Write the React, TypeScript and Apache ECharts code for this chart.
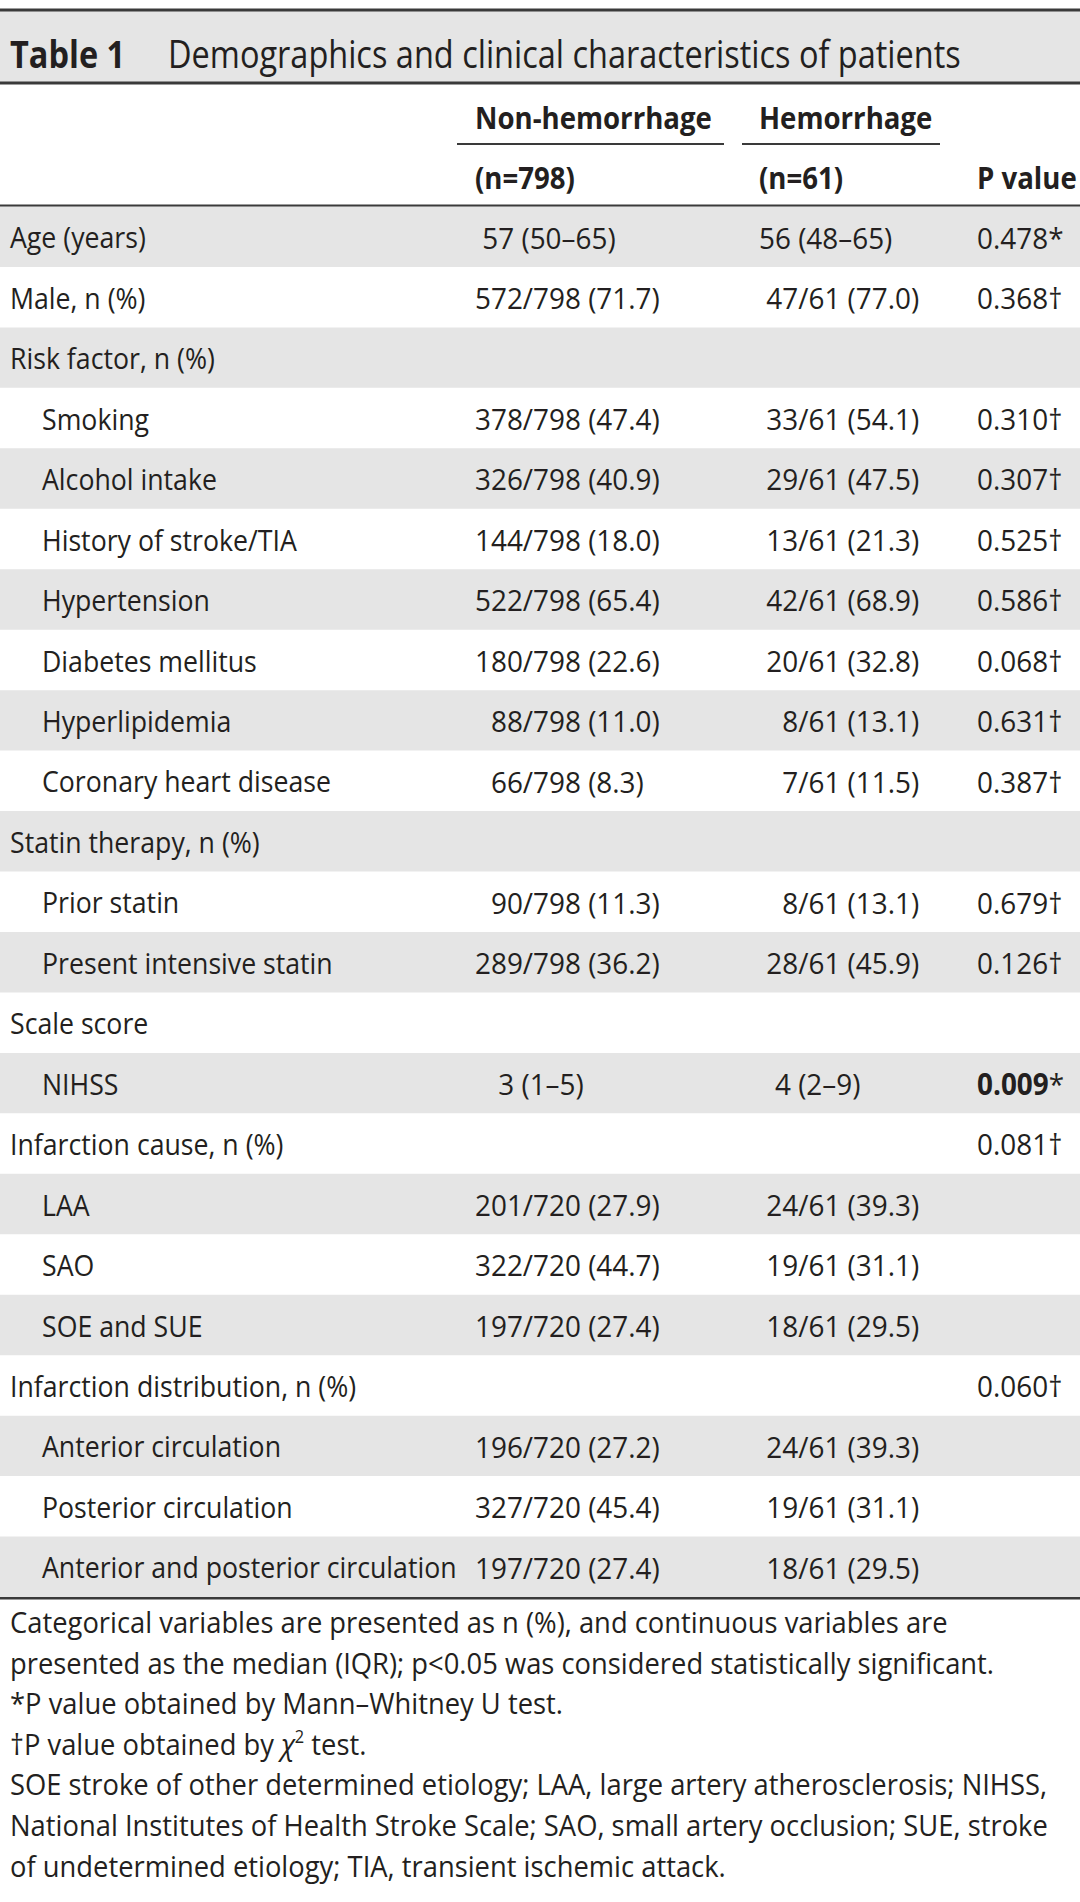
import React, { useEffect, useRef } from "react";
import * as echarts from "echarts";

// ---------- data ----------
const titleLabel = "Table 1";
const titleText = "Demographics and clinical characteristics of patients";
const groupHeaders = ["Non-hemorrhage", "Hemorrhage"];
const groupSizes = ["(n=798)", "(n=61)"];
const pHeader = "P value";

const FS = "\u2007"; // figure space (digit alignment)
const PS = "\u2008"; // punctuation space

const rowLabels = [
  "Age (years)",
  "Male, n (%)",
  "Risk factor, n (%)",
  "Smoking",
  "Alcohol intake",
  "History of stroke/TIA",
  "Hypertension",
  "Diabetes mellitus",
  "Hyperlipidemia",
  "Coronary heart disease",
  "Statin therapy, n (%)",
  "Prior statin",
  "Present intensive statin",
  "Scale score",
  "NIHSS",
  "Infarction cause, n (%)",
  "LAA",
  "SAO",
  "SOE and SUE",
  "Infarction distribution, n (%)",
  "Anterior circulation",
  "Posterior circulation",
  "Anterior and posterior circulation",
];
const rowLevel = [0, 0, 0, 1, 1, 1, 1, 1, 1, 1, 0, 1, 1, 0, 1, 0, 1, 1, 1, 0, 1, 1, 1];

const nonHemorrhage = [
  PS + "57 (50–65)",
  "572/798 (71.7)",
  "",
  "378/798 (47.4)",
  "326/798 (40.9)",
  "144/798 (18.0)",
  "522/798 (65.4)",
  "180/798 (22.6)",
  FS + "88/798 (11.0)",
  FS + "66/798 (8.3)",
  "",
  FS + "90/798 (11.3)",
  "289/798 (36.2)",
  "",
  FS + PS + "3 (1–5)",
  "",
  "201/720 (27.9)",
  "322/720 (44.7)",
  "197/720 (27.4)",
  "",
  "196/720 (27.2)",
  "327/720 (45.4)",
  "197/720 (27.4)",
];

const hemorrhage = [
  "56 (48–65)",
  PS + "47/61 (77.0)",
  "",
  PS + "33/61 (54.1)",
  PS + "29/61 (47.5)",
  PS + "13/61 (21.3)",
  PS + "42/61 (68.9)",
  PS + "20/61 (32.8)",
  FS + PS + "8/61 (13.1)",
  FS + PS + "7/61 (11.5)",
  "",
  FS + PS + "8/61 (13.1)",
  PS + "28/61 (45.9)",
  "",
  FS + "4 (2–9)",
  "",
  PS + "24/61 (39.3)",
  PS + "19/61 (31.1)",
  PS + "18/61 (29.5)",
  "",
  PS + "24/61 (39.3)",
  PS + "19/61 (31.1)",
  PS + "18/61 (29.5)",
];

const pValues = [
  "0.478*",
  "0.368†",
  "",
  "0.310†",
  "0.307†",
  "0.525†",
  "0.586†",
  "0.068†",
  "0.631†",
  "0.387†",
  "",
  "0.679†",
  "0.126†",
  "",
  "0.009*",
  "0.081†",
  "",
  "",
  "",
  "0.060†",
  "",
  "",
  "",
];

const footnotes = [
  "Categorical variables are presented as n (%), and continuous variables are",
  "presented as the median (IQR); p<0.05 was considered statistically significant.",
  "*P value obtained by Mann–Whitney U test.",
  "†P value obtained by χ² test.",
  "SOE stroke of other determined etiology; LAA, large artery atherosclerosis; NIHSS,",
  "National Institutes of Health Stroke Scale; SAO, small artery occlusion; SUE, stroke",
  "of undetermined etiology; TIA, transient ischemic attack.",
];

// ---------- layout / style ----------
const W = 1080;
const H = 1902;
const FONT = "'Open Sans', 'Noto Sans', sans-serif";
const INK = "#231f20";
const BAND = "#e5e5e5";
const RULE = "#3a3a3a";
const FSZ = 30;
const SX = 0.89; // row labels
const NUM_SX = 0.93; // numeric cells
const HEAD_SX = 0.92; // bold column headers
const FOOT_SX = 0.912; // footnotes
const TITLE_FSZ = 38;
const TITLE_SX = 0.855;

const BODY_TOP = 206.5;
const BODY_BOTTOM = 1597;

const COL_LABEL = 10;
const COL_INDENT = 42;
const COL_NON = 475;
const COL_HEM = 759;
const COL_P = 977;

function textEl(text: string, x: number, y: number, opts: any = {}) {
  return {
    type: "text",
    x,
    y,
    scaleX: opts.scaleX ?? SX,
    silent: true,
    style: {
      text,
      fontFamily: FONT,
      fontSize: opts.fontSize ?? FSZ,
      fontWeight: opts.fontWeight ?? "normal",
      fill: INK,
      align: "left",
      verticalAlign: "middle",
      rich: opts.rich,
    },
  };
}

function hline(y: number, x1: number, x2: number, w: number) {
  return {
    type: "line",
    silent: true,
    shape: { x1, y1: y, x2, y2: y },
    style: { stroke: RULE, lineWidth: w },
  };
}

function pRich(p: string) {
  const num = p.replace(/[*†]/g, "");
  const mark = p.slice(num.length);
  const sig = parseFloat(num) < 0.05;
  return {
    text: `{${sig ? "b" : "n"}|${num}}{n|${mark}}`,
    rich: {
      b: { fontFamily: FONT, fontSize: FSZ, fontWeight: "bold", fill: INK },
      n: { fontFamily: FONT, fontSize: FSZ, fontWeight: "normal", fill: INK },
    },
  };
}

function buildOption() {
  const graphics: any[] = [];
  // title band
  graphics.push({
    type: "rect",
    silent: true,
    shape: { x: 0, y: 11, width: W, height: 71 },
    style: { fill: BAND },
  });
  graphics.push(hline(10, 0, W, 3));
  graphics.push(hline(83, 0, W, 3));
  graphics.push(textEl(titleLabel, 10, 53, { fontSize: TITLE_FSZ, fontWeight: "bold", scaleX: TITLE_SX }));
  graphics.push(textEl(titleText, 168, 53, { fontSize: TITLE_FSZ, scaleX: TITLE_SX }));

  // column headers
  graphics.push(textEl(groupHeaders[0], 475, 117, { fontWeight: "bold", scaleX: HEAD_SX }));
  graphics.push(textEl(groupHeaders[1], 759, 117, { fontWeight: "bold", scaleX: HEAD_SX }));
  graphics.push(hline(144, 457, 724, 2));
  graphics.push(hline(144, 742, 940, 2));
  graphics.push(textEl(groupSizes[0], 475, 177, { fontWeight: "bold", scaleX: HEAD_SX }));
  graphics.push(textEl(groupSizes[1], 759, 177, { fontWeight: "bold", scaleX: HEAD_SX }));
  graphics.push(textEl(pHeader, COL_P, 177, { fontWeight: "bold", scaleX: HEAD_SX }));
  graphics.push(hline(206, 0, W, 3));
  graphics.push(hline(BODY_BOTTOM + 1, 0, W, 3));

  // footnotes
  footnotes.forEach((line, k) => {
    const y = 1621 + k * 40.6;
    if (line.includes("χ²")) {
      const [a, b] = line.split("χ²");
      graphics.push(
        textEl(`{n|${a}}{i|χ}{s|2}{n|${b}}`, 10, y, {
          scaleX: FOOT_SX,
          rich: {
            n: { fontFamily: FONT, fontSize: FSZ, fill: INK },
            i: { fontFamily: FONT, fontSize: FSZ, fontStyle: "italic", fill: INK },
            s: { fontFamily: FONT, fontSize: 18, fill: INK, verticalAlign: "top", padding: [0, 0, 14, 0] },
          },
        })
      );
    } else {
      graphics.push(textEl(line, 10, y, { scaleX: FOOT_SX }));
    }
  });

  const data = rowLabels.map((_, i) => [0, i]);

  return {
    animation: false,
    backgroundColor: "#ffffff",
    grid: { left: 0, top: BODY_TOP, width: W, height: BODY_BOTTOM - BODY_TOP, containLabel: false },
    xAxis: { type: "value", min: 0, max: W, show: false },
    yAxis: { type: "category", data: rowLabels, inverse: true, show: false },
    series: [
      {
        type: "custom",
        silent: true,
        data,
        encode: { x: 0, y: 1 },
        renderItem: (params: any, api: any) => {
          const i = api.value(1) as number;
          const c = api.coord([0, i]);
          const cy = c[1];
          const bandH = api.size([0, 1])[1];
          const xAt = (v: number) => api.coord([v, i])[0];
          const children: any[] = [];
          if (i % 2 === 0) {
            children.push({
              type: "rect",
              shape: { x: xAt(0), y: cy - bandH / 2, width: xAt(W) - xAt(0), height: bandH },
              style: { fill: BAND },
            });
          }
          const lx = rowLevel[i] ? COL_INDENT : COL_LABEL;
          children.push(textEl(rowLabels[i], xAt(lx), cy));
          if (nonHemorrhage[i]) children.push(textEl(nonHemorrhage[i], xAt(COL_NON), cy, { scaleX: NUM_SX }));
          if (hemorrhage[i]) children.push(textEl(hemorrhage[i], xAt(COL_HEM), cy, { scaleX: NUM_SX }));
          if (pValues[i]) {
            const pr = pRich(pValues[i]);
            children.push(textEl(pr.text, xAt(COL_P), cy, { rich: pr.rich, scaleX: NUM_SX }));
          }
          return { type: "group", children };
        },
      },
    ],
    graphic: { elements: graphics },
  };
}

export default function App() {
  const ref = useRef<HTMLDivElement>(null);
  useEffect(() => {
    document.body.style.margin = "0";
    if (!ref.current) return;
    const chart = echarts.init(ref.current, undefined, { renderer: "svg" });
    chart.setOption(buildOption() as any);
    return () => chart.dispose();
  }, []);
  return <div ref={ref} style={{ width: W, height: H, background: "#fff" }} />;
}
